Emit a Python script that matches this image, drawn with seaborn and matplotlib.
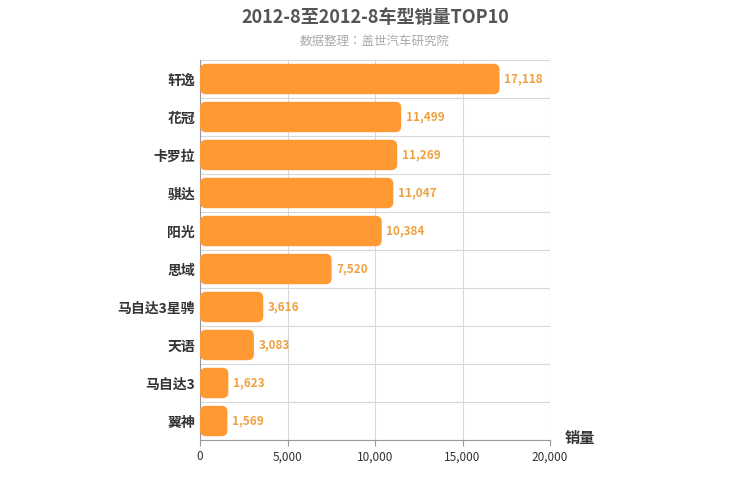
import matplotlib
matplotlib.use("Agg")
import matplotlib.pyplot as plt
from matplotlib import font_manager as fm
import seaborn as sns
import pandas as pd
from matplotlib.patches import FancyBboxPatch

cjk = [f.name for f in fm.fontManager.ttflist if "CJK" in f.name]
pref = [n for n in ["Noto Sans CJK SC", "Noto Sans CJK JP", "Noto Sans CJK TC", "Noto Sans CJK KR"] if n in cjk] or cjk
plt.rcParams["font.family"] = "sans-serif"
plt.rcParams["font.sans-serif"] = pref[:1] + ["DejaVu Sans"]

models = ["轩逸", "花冠", "卡罗拉", "骐达", "阳光", "思域", "马自达3星骋", "天语", "马自达3", "翼神"]
sales = [17118, 11499, 11269, 11047, 10384, 7520, 3616, 3083, 1623, 1569]
xticks = [0, 5000, 10000, 15000, 20000]

df = pd.DataFrame({"model": models, "sales": sales})
fig = plt.figure(figsize=(7.5, 5), dpi=100)
ax = fig.add_axes([200/750, 60/500, 350/750, 380/500])
sns.barplot(data=df, y="model", x="sales", color="#ff9933", width=0.8, ax=ax, saturation=1)

xpp = 20000/350
ypp = 10/380
for p in list(ax.patches):
    x0, y0 = p.get_x(), p.get_y()
    w, h = p.get_width(), p.get_height()
    p.set_visible(False)
    fb = FancyBboxPatch((x0, y0), w, h, boxstyle="round,pad=0,rounding_size=%f" % (6*xpp),
                        mutation_aspect=ypp/xpp, fc="#ff9933", ec="none", zorder=3)
    ax.add_patch(fb)

for i, v in enumerate(sales):
    ax.text(v + 250, i, f"{v:,}", va="center", ha="left", color="#f0a040", fontsize=8.5, fontweight="bold")

ax.set_xlim(0, 20000)
ax.set_ylim(9.5, -0.5)
ax.set_xticks(xticks)
ax.set_xticklabels([f"{t:,}" for t in xticks], fontsize=8.5, color="#333")
ax.set_yticks(range(10))
ax.set_yticklabels(models, fontsize=10, fontweight="bold", color="#333")
ax.set_yticks([i + 0.5 for i in range(-1, 10)], minor=True)
ax.grid(axis="x", color="#d8d8d8", lw=0.8, zorder=0)
ax.grid(axis="y", which="minor", color="#d8d8d8", lw=0.8, zorder=0)
ax.grid(axis="y", which="major", visible=False)
ax.tick_params(axis="y", which="both", length=0)
ax.tick_params(axis="x", length=4, color="#999")
for s in ["top", "right"]:
    ax.spines[s].set_visible(False)
ax.spines["left"].set_color("#999")
ax.spines["bottom"].set_color("#999")
ax.set_xlabel("")
ax.set_ylabel("")
ax.set_axisbelow(True)

fig.text(0.5, 0.965, "2012-8至2012-8车型销量TOP10", ha="center", va="center", fontsize=13, fontweight="bold", color="#555")
fig.text(0.5, 0.918, "数据整理：盖世汽车研究院", ha="center", va="center", fontsize=9, color="#aaa")
fig.text(565/750, 1-438/500, "销量", ha="left", va="center", fontsize=11, fontweight="bold", color="#333")

fig.savefig("out.png", dpi=100)
